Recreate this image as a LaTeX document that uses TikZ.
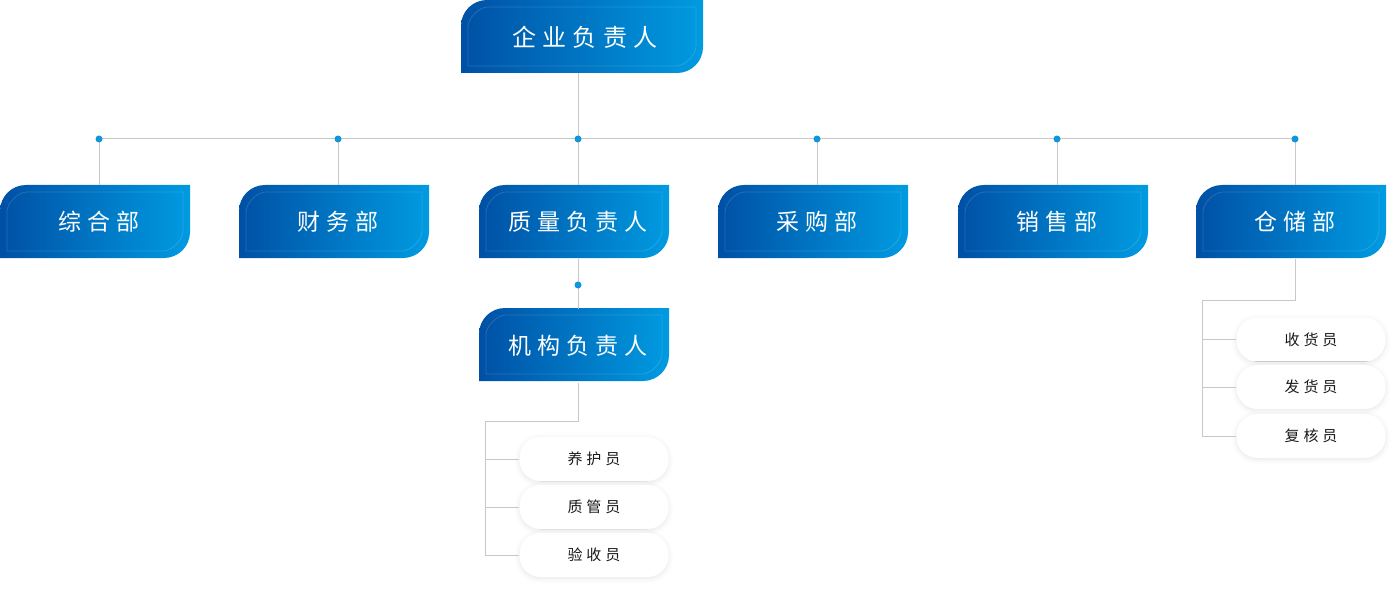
\documentclass[tikz,border=0pt]{standalone}
\usepackage{fontspec}
\newfontfamily\cjk[LetterSpace=26]{Noto Sans CJK SC}
\usetikzlibrary{shadows.blur}
\definecolor{bdark}{RGB}{0,80,165}
\definecolor{blight}{RGB}{0,155,225}
\definecolor{connc}{RGB}{200,200,200}
\definecolor{dotc}{RGB}{16,150,220}
\tikzset{
  conn/.style={draw=connc, line width=1pt},
  dotn/.style={circle, fill=dotc, inner sep=0pt, minimum size=7pt},
  boxlabel/.style={text=white, inner sep=0pt, minimum height=73pt},
  toplabel/.style={boxlabel, font=\cjk\fontsize{24}{27}\selectfont, minimum width=242pt},
  deptlabel/.style={boxlabel, font=\cjk\fontsize{23}{26}\selectfont, minimum width=190pt},
  pill/.style={fill=white, rounded corners=21pt, minimum width=149pt, minimum height=44pt,
    font=\cjk\fontsize{15}{17}\selectfont, text=black!90,
    blur shadow={shadow xshift=0pt, shadow yshift=-1.5pt, shadow blur radius=5pt, shadow opacity=10}},
}
\newcommand{\bluebox}[4]{%
  \path[left color=bdark, right color=blight]
    (#1,#4) -- (#1,#2+26) .. controls (#1,#2+11.6) and (#1+11.6,#2) .. (#1+26,#2)
    -- (#3,#2) -- (#3,#4-26) .. controls (#3,#4-11.6) and (#3-11.6,#4) .. (#3-26,#4) -- cycle;
  \draw[white, opacity=0.14, line width=0.8pt]
    (#1+7,#4-7) -- (#1+7,#2+27) .. controls (#1+7,#2+18) and (#1+18,#2+7) .. (#1+27,#2+7)
    -- (#3-7,#2+7) -- (#3-7,#4-27) .. controls (#3-7,#4-18) and (#3-18,#4-7) .. (#3-27,#4-7) -- cycle;
}
\begin{document}
\begin{tikzpicture}[x=1pt, y=-1pt]
\useasboundingbox (0,0) rectangle (1396,596);
% boxes
\bluebox{461}{0}{703}{73}
\node[toplabel] (top) at (585,37) {企业负责人};
\bluebox{0}{185}{190}{258}
\node[deptlabel] (zh) at (99,222) {综合部};
\bluebox{239}{185}{429}{258}
\node[deptlabel] (cw) at (338,222) {财务部};
\bluebox{479}{185}{669}{258}
\node[deptlabel] (zl) at (578,222) {质量负责人};
\bluebox{718}{185}{908}{258}
\node[deptlabel] (cg) at (817,222) {采购部};
\bluebox{958}{185}{1148}{258}
\node[deptlabel] (xs) at (1057,222) {销售部};
\bluebox{1196}{185}{1386}{258}
\node[deptlabel] (cc) at (1295,222) {仓储部};
\bluebox{479}{308}{669}{381}
\node[deptlabel] (jg) at (578,346) {机构负责人};
% pills
\node[pill] (yh) at (594,459) {养护员};
\node[pill] (zg) at (594,507) {质管员};
\node[pill] (ys) at (594,555) {验收员};
\node[pill] (sh) at (1311,339.5) {收货员};
\node[pill] (fh) at (1311,387) {发货员};
\node[pill] (fhk) at (1311,436) {复核员};
% coordinates
\coordinate (c1) at (99,139);
\coordinate (c2) at (338,139);
\coordinate (c3) at (578,139);
\coordinate (c4) at (817,139);
\coordinate (c5) at (1057,139);
\coordinate (c6) at (1295,139);
\coordinate (c7) at (578,285);
\coordinate (j1) at (578,421);
\coordinate (j2) at (485,421);
\coordinate (k1) at (1295,300);
\coordinate (k2) at (1202,300);
% connectors
\draw[conn] (c3 |- 0,73) -- (c3);
\draw[conn] (c1) -- (c6);
\foreach \c/\n in {c1/zh, c2/cw, c3/zl, c4/cg, c5/xs, c6/cc}
  \draw[conn] (\c) -- (\c |- \n.north);
\draw[conn] (zl.south -| c7) -- (jg.north -| c7);
\draw[conn] (jg.south -| j1) -- (j1) -- (j2) -- (j2 |- ys.west) -- (ys.west);
\draw[conn] (j2 |- yh.west) -- (yh.west);
\draw[conn] (j2 |- zg.west) -- (zg.west);
\draw[conn] (cc.south -| k1) -- (k1) -- (k2) -- (k2 |- fhk.west) -- (fhk.west);
\draw[conn] (k2 |- sh.west) -- (sh.west);
\draw[conn] (k2 |- fh.west) -- (fh.west);
% dots
\node[dotn] (d1) at (c1) {};
\node[dotn] (d2) at (c2) {};
\node[dotn] (d3) at (c3) {};
\node[dotn] (d4) at (c4) {};
\node[dotn] (d5) at (c5) {};
\node[dotn] (d6) at (c6) {};
\node[dotn] (d7) at (c7) {};
\end{tikzpicture}
\end{document}
